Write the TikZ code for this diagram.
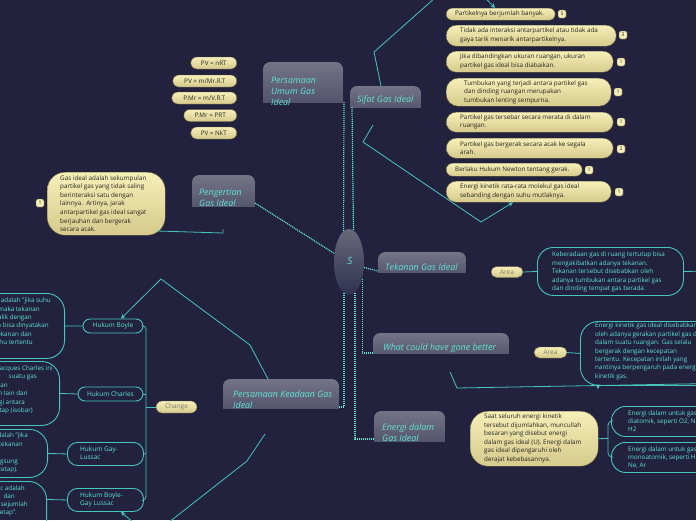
\documentclass[tikz,border=0pt]{standalone}
\usepackage{fontspec}
\setmainfont{Open Sans}
\usetikzlibrary{arrows.meta,shapes.geometric}
\definecolor{bgc}{RGB}{34,33,62}
\definecolor{tl}{RGB}{70,198,188}
\definecolor{tt}{RGB}{96,228,214}
\definecolor{topA}{RGB}{116,116,136}
\definecolor{topB}{RGB}{76,78,102}
\definecolor{crA}{RGB}{246,239,184}
\definecolor{crB}{RGB}{214,202,140}
\definecolor{crD}{RGB}{100,94,64}
\definecolor{dk}{RGB}{38,36,30}
\definecolor{gtx}{RGB}{128,125,108}
\definecolor{elA}{RGB}{104,104,124}
\definecolor{elB}{RGB}{46,50,80}
\tikzset{
  btext/.style={font=\fontsize{6.3}{8.4}\selectfont, inner sep=0pt, align=left},
  ybox/.style={draw=crD, line width=0.4pt, top color=crA, bottom color=crB, inner sep=0pt},
  tbox/.style={draw=tl, line width=0.9pt, inner sep=0pt},
  badge/.style={draw=crD, line width=0.4pt, fill=crA, text=dk, font=\fontsize{5}{5}\selectfont, rounded corners=1.5pt, minimum width=8pt, minimum height=8pt, inner sep=0pt},
  apill/.style={draw=crD, line width=0.4pt, top color=crA, bottom color=crB, text=gtx, font=\fontsize{6.5}{7}\selectfont, inner sep=0pt},
  fpill/.style={draw=crD, line width=0.4pt, top color=crA, bottom color=crB, text=dk, font=\fontsize{6.3}{7}\selectfont, inner sep=0pt, rounded corners=6pt, minimum height=12pt},
  ttext/.style={text=tt, font=\fontsize{8.9}{11}\selectfont\itshape, align=left, anchor=west, inner sep=0pt},
  cline/.style={draw=tl, line width=0.8pt},
  dline/.style={draw=tt, line width=1.2pt, dash pattern=on 1.1pt off 0.9pt},
  rel/.style={draw=tl, line width=0.8pt, -{Stealth[length=4.5pt,width=4.5pt]}},
  lefttext/.style={text=tt, font=\fontsize{6.3}{8.4}\selectfont, inner sep=0pt, anchor=east}
}
\newcommand\topicbox[8]{%
  \begin{scope}
    \clip (#2,#3) rectangle (#4,#5);
    \fill[top color=topA, bottom color=topB, rounded corners=7pt] (#2,#3) rectangle (#4,#5+8);
  \end{scope}
  \coordinate (#1-nw) at (#2,#3);
  \coordinate (#1-se) at (#4,#5);
  \coordinate (#1-sw) at (#2,#5);
  \node[ttext] (#1) at (#6,#7) {#8};}
\begin{document}
\begin{tikzpicture}[x=1pt,y=-1pt]
\useasboundingbox (0,0) rectangle (696,520);
\fill[bgc] (0,0) rectangle (696,520);
\clip (0,0) rectangle (696,520);

% ---------- central node
\node[ellipse, minimum width=30pt, minimum height=66pt, top color=elA, bottom color=elB, inner sep=0pt] (c) at (349,262) {};
\node[text=tt, font=\fontsize{10}{10}\selectfont\itshape, inner sep=0pt] (cs) at (350,261) {S};

% ---------- topics
\topicbox{pu}{263}{62}{343}{102}{271}{91}{Persamaan\\Umum Gas\\Ideal}
\topicbox{sf}{350}{86}{421}{107}{357}{100}{Sifat Gas Ideal}
\topicbox{pg}{192}{175}{255}{206}{199}{197.5}{Pengertian\\Gas Ideal}
\topicbox{tk}{378}{252}{466}{272}{385}{267}{Tekanan Gas Ideal}
\topicbox{wc}{373}{333}{509}{353}{383}{348}{What could have gone better}
\topicbox{en}{374}{411}{445}{441}{382}{432.5}{Energi dalam\\Gas Ideal}
\topicbox{pk}{223}{379}{339}{408}{233}{400}{Persamaan Keadaan Gas\\Ideal}

% ---------- dotted connectors from centre
\draw[dline] (344,102) -- (c.100);
\draw[dline] (352,107) -- (c.82);
\draw[dline] ([yshift=3pt]pg-se) -- (c.150);
\draw[dline] (c.-20) -- ([yshift=1pt]tk-sw);
\draw[dline] (c.-52) |- (wc-sw);
\draw[dline] (c.-79) |- ([yshift=2pt]en-sw);
\draw[dline] (c.-99) |- ([yshift=1pt]pk-se);

% ---------- Persamaan Umum formulas
\node[fpill, minimum width=46pt, anchor=east] (f1) at (237,63) {PV = nRT};
\node[fpill, minimum width=64pt, anchor=east] (f2) at (237,81) {PV = m/Mr.R.T};
\node[fpill, minimum width=65pt, anchor=east] (f3) at (237,98) {P.Mr = m/V.R.T};
\node[fpill, minimum width=53pt, anchor=east] (f4) at (237,115.5) {P.Mr = PRT};
\node[fpill, minimum width=46pt, anchor=east] (f5) at (237,133) {PV = NkT};

% ---------- Sifat children
\node[ybox, rounded corners=6pt, minimum width=109pt, minimum height=12pt, anchor=north west] (sa) at (446,8) {};
\node[btext, text=dk, anchor=west] (sat) at (455,14) {Partikelnya berjumlah banyak.};
\node[badge] (ba) at (562,14) {5};
\node[ybox, rounded corners=10pt, minimum width=170pt, minimum height=21pt, anchor=north west] (sb) at (446,25) {};
\node[btext, text=dk, anchor=west] (sbt) at (460,35.5) {Tidak ada interaksi antarpartikel atau tidak ada\\gaya tarik menarik antarpartikelnya.};
\node[badge] (bb) at (623,35) {3};
\node[ybox, rounded corners=10pt, minimum width=167pt, minimum height=21pt, anchor=north west] (sc) at (446,51) {};
\node[btext, text=dk, anchor=west] (sct) at (460,61.5) {Jika dibandingkan ukuran ruangan, ukuran\\partikel gas ideal bisa diabaikan.};
\node[badge] (bc) at (621,62) {1};
\node[ybox, rounded corners=12pt, minimum width=165pt, minimum height=28pt, anchor=north west] (sd) at (446,78) {};
\node[btext, text=dk, anchor=west] (sdt) at (464,92) {Tumbukan yang terjadi antara partikel gas\\dan dinding ruangan merupakan\\tumbukan lenting sempurna.};
\node[badge] (bd) at (618,92) {1};
\node[ybox, rounded corners=10pt, minimum width=167pt, minimum height=20pt, anchor=north west] (se) at (446,112) {};
\node[btext, text=dk, anchor=west] (set) at (460,122) {Partikel gas tersebar secara merata di dalam\\ruangan.};
\node[badge] (be) at (621,122) {1};
\node[ybox, rounded corners=10pt, minimum width=167pt, minimum height=20pt, anchor=north west] (sf2) at (446,138) {};
\node[btext, text=dk, anchor=west] (sft) at (460,148) {Partikel gas bergerak secara acak ke segala\\arah.};
\node[badge] (bf) at (621,149) {2};
\node[ybox, rounded corners=6.5pt, minimum width=136pt, minimum height=13pt, anchor=north west] (sg) at (446,163) {};
\node[btext, text=dk, anchor=west] (sgt) at (455,169.5) {Berlaku Hukum Newton tentang gerak.};
\node[badge] (bg) at (589,170) {1};
\node[ybox, rounded corners=10pt, minimum width=165pt, minimum height=21pt, anchor=north west] (sh) at (446,181) {};
\node[btext, text=dk, anchor=west] (sht) at (460,191.5) {Energi kinetik rata-rata molekul gas ideal\\sebanding dengan suhu mutlaknya.};
\node[badge] (bh) at (619,192) {1};

% relationship arrows of Sifat Gas Ideal
\coordinate (r1s) at (381,86);
\coordinate (r2s) at (373,125);
\draw[rel] (r1s) -- (374,52) -- (462,-26) -- ([xshift=49pt]sa.north west);
\draw[rel] (r2s) -- (363,142) -- (481,222) -- ([xshift=67pt]sh.south west);

% ---------- Pengertian child
\node[ybox, rounded corners=18pt, minimum width=118pt, minimum height=63pt, anchor=north west] (pgc) at (47,172) {};
\node[btext, text=dk, anchor=west, font=\fontsize{6.3}{8.6}\selectfont] (pgct) at (60,203.5) {Gas ideal adalah sekumpulan\\partikel gas yang tidak saling\\berinteraksi satu dengan\\lainnya.\ \ Artinya, jarak\\antarpartikel gas ideal sangat\\berjauhan dan bergerak\\secara acak.};
\node[badge] (bpg) at (40,203) {1};
\coordinate (pgj) at (223,229);
\draw[cline] (157,231) -- (223,233) -- (pgj);

% ---------- Tekanan child
\node[apill, rounded corners=5.5pt, minimum width=32pt, minimum height=11pt] (ar1) at (507,272) {Area};
\node[tbox, rounded corners=16pt, minimum width=146pt, minimum height=48pt, anchor=north west] (tkc) at (537,247) {};
\node[btext, text=tt, anchor=west] (tkct) at (552,272) {Keberadaan gas di ruang tertutup bisa\\mengakibatkan adanya tekanan.\\Tekanan tersebut disebabkan oleh\\adanya tumbukan antara partikel gas\\dan dinding tempat gas berada.};
\coordinate (tkr) at (720,271);
\draw[cline] (ar1.east) -- (tkc.west);
\draw[cline] (tkc.east) -- (tkr);

% ---------- What could have gone better child
\node[apill, rounded corners=5.5pt, minimum width=33pt, minimum height=11pt] (ar2) at (550.5,352.5) {Area};
\node[tbox, rounded corners=18pt, minimum width=140pt, minimum height=64pt, anchor=north west] (wcc) at (580,321) {};
\node[btext, text=tt, anchor=west] (wcct) at (595,351.5) {Energi kinetik gas ideal disebabkan\\oleh adanya gerakan partikel gas di\\dalam suatu ruangan. Gas selalu\\bergerak dengan kecepatan\\tertentu. Kecepatan inilah yang\\nantinya berpengaruh pada energi\\kinetik gas.};
\draw[cline] (ar2.east) -- (wcc.west);
\coordinate (wcr1) at (450,372);
\coordinate (wcr2) at (740,383);
\draw[cline] (wcr1) -- (457,388) -- (wcr2);
\fill[tl] (595.5,384.5) -- (600.5,384.5) -- (598,389) -- cycle;

% ---------- Energi dalam children
\node[ybox, rounded corners=18pt, minimum width=128pt, minimum height=55pt, anchor=north west] (enc) at (470,411) {};
\node[btext, text=dk, anchor=west, font=\fontsize{6.3}{8.5}\selectfont] (enct) at (484,438.5) {Saat seluruh energi kinetik\\tersebut dijumlahkan, muncullah\\besaran yang disebut energi\\dalam gas ideal (U). Energi dalam\\gas ideal dipengaruhi oleh\\derajat kebebasannya.};
\node[tbox, rounded corners=14pt, minimum width=110pt, minimum height=30pt, anchor=north west] (e1) at (611,406) {};
\node[btext, text=tt, anchor=west] (e1t) at (628,421) {Energi dalam untuk gas\\diatomik, seperti O2, N2,\\H2};
\node[tbox, rounded corners=14pt, minimum width=110pt, minimum height=30pt, anchor=north west] (e2) at (611,442) {};
\node[btext, text=tt, anchor=west] (e2t) at (628,457.5) {Energi dalam untuk gas\\monoatomik, seperti He,\\Ne, Ar};
\draw[cline] (enc.east) -- (608,438.5);
\draw[cline, rounded corners=4pt] ([yshift=-15pt]e1.north west) -- (608,421) -- (608,457) -- ([yshift=-15pt]e2.north west);

% ---------- Persamaan Keadaan children
\node[apill, rounded corners=6pt, minimum width=41pt, minimum height=12pt] (chg) at (176.5,407) {Change};
\node[tbox, rounded corners=7pt, minimum width=60pt, minimum height=14pt, text=tt, font=\fontsize{6.5}{7}\selectfont] (hb) at (113,326) {Hukum Boyle};
\node[tbox, rounded corners=7pt, minimum width=65pt, minimum height=14pt, text=tt, font=\fontsize{6.5}{7}\selectfont] (hc) at (110.5,394) {Hukum Charles};
\node[tbox, rounded corners=10pt, minimum width=76pt, minimum height=23pt, anchor=north west] (hg) at (67,442) {};
\node[btext, text=tt, anchor=west, font=\fontsize{6.5}{8}\selectfont] (hgt) at (80,453.5) {Hukum Gay-\\Lussac};
\node[tbox, rounded corners=10pt, minimum width=76pt, minimum height=23pt, anchor=north west] (hbg) at (67,488) {};
\node[btext, text=tt, anchor=west, font=\fontsize{6.5}{8}\selectfont] (hbgt) at (80,499.5) {Hukum Boyle-\\Gay Lussac};
\draw[cline] (chg.west) -- (146,407);
\draw[cline, rounded corners=3pt] (hb.east) -- (146,326) -- (146,499.5) -- (hbg.east);
\draw[cline] (hc.east) -- (146,394);
\draw[cline] (hg.east) -- (146,453.5);

% explanation boxes (cut by the left edge)
\node[tbox, rounded corners=18pt, minimum width=185pt, minimum height=65pt, anchor=north east] (xb) at (65,293) {};
\node[tbox, rounded corners=18pt, minimum width=180pt, minimum height=64pt, anchor=north east] (xc) at (60,361) {};
\node[tbox, rounded corners=18pt, minimum width=168pt, minimum height=48pt, anchor=north east] (xg) at (48,429) {};
\node[tbox, rounded corners=18pt, minimum width=167pt, minimum height=60pt, anchor=north east] (xbg) at (47,481) {};
\draw[cline] (xb.east) -- (hb.west);
\draw[cline] (xc.east) -- (hc.west);
\draw[cline] (xg.east) -- (hg.west);
\draw[cline] (47,499.5) -- (hbg.west);

\node[lefttext] (xb1) at (51,301) {Hukum Boyle adalah "jika suhu};
\node[lefttext] (xb2) at (40,309) {maka tekanan};
\node[lefttext] (xb3) at (32,317.5) {berbanding terbalik dengan};
\node[lefttext] (xb4) at (49,326) {Hukum ini juga bisa dinyatakan};
\node[lefttext] (xb5) at (32,334.5) {hasil kali tekanan dan};
\node[lefttext] (xb6) at (33,343) {volume pada suhu tertentu};
\node[lefttext] (xc1) at (53,368.5) {Hukum Jacques Charles ini};
\node[lefttext] (xc2) at (37,377) {suatu gas};
\node[lefttext] (xc3) at (8,385.5) {dipanaskan};
\node[lefttext] (xc4) at (28,394) {yang dan lain dari};
\node[lefttext] (xc5) at (25,402.5) {sebagai lagi antara};
\node[lefttext] (xc6) at (33,411) {tekanan tetap (isobar)};
\node[lefttext] (xg1) at (28,436) {Hukum ini adalah "jika};
\node[lefttext] (xg2) at (23,444.5) {tekanan};
\node[lefttext] (xg4) at (18,461.5) {langsung};
\node[lefttext] (xg5) at (18,469.5) {tetap).};
\node[lefttext] (xbg1) at (25,488.5) {Gay Lussac adalah};
\node[lefttext] (xbg2) at (15,496.5) {dan};
\node[lefttext] (xbg3) at (28,504.5) {sejumlah};
\node[lefttext] (xbg4) at (17,513) {tetap".};

% relationship arrows of Persamaan Keadaan Gas Ideal
\coordinate (r3s) at (268,379);
\coordinate (r4s) at (265,434);
\draw[rel] (r3s) -- (250,345) -- (161,279) -- ([xshift=8pt]hb.north);
\draw[rel] (r4s) -- (247,461) -- (150,537) -- ([xshift=54pt]hbg.south west);
\end{tikzpicture}
\end{document}
